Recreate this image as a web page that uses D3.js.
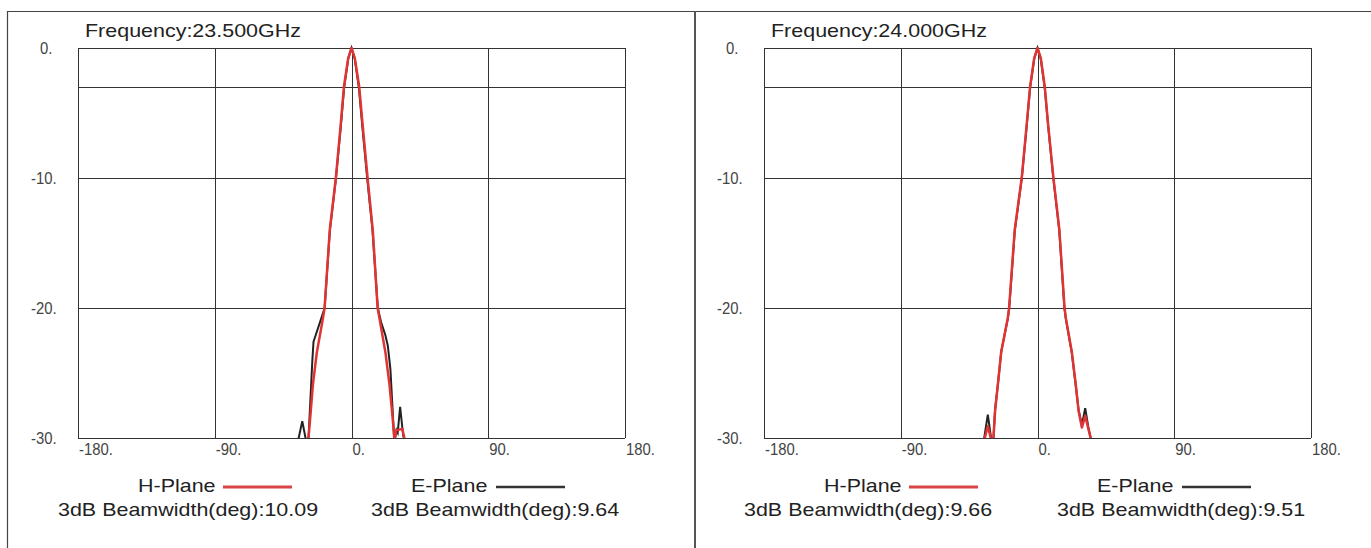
<!DOCTYPE html>
<html>
<head>
<meta charset="utf-8">
<style>
    body { margin: 0; background: #fff; }
    svg text { font-family: Arial, "Liberation Sans", sans-serif; }
    .tick-label { font-size: 16.5px; fill: #444; }
    .title, .legend { font-size: 19px; fill: #222; }
</style>
<script src="https://d3js.org/d3.v7.min.js"></script>
</head>
<body>
<svg id="chart" width="1371" height="548"></svg>
<script>
// axis ticks
var angleTicks = [-180, -90, 0, 90, 180];
var dbTicks = [0, -10, -20, -30];
var dbGrid = [0, -3, -10, -20, -30];

// panel headings + beamwidths
var frequencies = ["23.500", "24.000"];
var hBeamwidths = ["10.09", "9.66"];
var eBeamwidths = ["9.64", "9.51"];

// 23.5 GHz, H-Plane
var hAngles235 = [-40, -29.5, -28.3, -27.2, -25.4, -22.8, -18.8, -17.7, -14.3, -10.3, -7.2, -5, -2.2, 0, 2.2, 5.1, 7.4, 10.6, 14, 17.2, 18.4, 22.3, 25, 27.1, 28.3, 29.5, 33.5, 35.5, 38];
var hDb235 = [-40, -31.5, -30, -28.5, -25.9, -23.4, -20.8, -20, -14, -10, -6, -3, -0.8, 0, -0.8, -3, -6, -10, -14, -20, -20.8, -23.4, -25.9, -28.5, -30.2, -29.4, -29.3, -30.4, -36];
// 23.5 GHz, E-Plane
var eAngles235 = [-40, -35.5, -32.4, -29.6, -29, -28.3, -25.8, -25, -23.6, -19.9, -17.7, -14.2, -10.2, -7, -4.8, -2.1, 0, 2.1, 4.8, 7.1, 10.3, 13.8, 17.3, 19.5, 22.3, 23.9, 25.6, 28.2, 29.6, 30.4, 32, 34, 35.5, 38];
var eDb235 = [-40, -30.4, -28.7, -30.4, -31, -30, -24.1, -22.6, -22.1, -20.8, -20, -14, -10, -6, -3, -0.8, 0, -0.8, -3, -6, -10, -14, -20, -21.1, -22.1, -22.9, -24.7, -30.3, -29.4, -29.6, -27.6, -29.8, -30.4, -36];

// 24.0 GHz, H-Plane
var hAngles240 = [-40, -35.6, -32.7, -30.3, -29, -27.9, -26.1, -23.9, -19.6, -18.7, -15, -10.4, -7.2, -4.9, -2.2, 0, 2.2, 4.8, 7.1, 10.5, 14.4, 17.8, 18.7, 22.6, 25.2, 27, 29.2, 31.4, 33.5, 35.8, 38];
var hDb240 = [-40, -30.4, -29.1, -30.2, -30, -27.9, -25.9, -23.4, -20.8, -20, -14, -10, -6, -3, -0.8, 0, -0.8, -3, -6, -10, -14, -20, -20.8, -23.4, -25.9, -27.9, -29.2, -28.3, -29.3, -30.4, -36];
// 24.0 GHz, E-Plane
var eAngles240 = [-40, -35.6, -32.7, -30.3, -29, -27.9, -26, -23.8, -19.5, -18.6, -14.9, -10.3, -7.1, -4.8, -2.1, 0, 2.1, 4.7, 7, 10.4, 14.3, 17.7, 18.6, 22.5, 25.1, 27, 29.2, 31.4, 33.5, 35.8, 38];
var eDb240 = [-40, -30.4, -28.2, -30.2, -30, -27.8, -25.8, -23.3, -20.8, -20, -14, -10, -6, -3, -0.8, 0, -0.8, -3, -6, -10, -14, -20, -20.8, -23.4, -25.9, -27.8, -29, -27.7, -29.2, -30.4, -36];

function zip(a, b) { return a.map(function (v, i) { return [v, b[i]]; }); }

var panels = [
    { freq: frequencies[0], h: zip(hAngles235, hDb235), e: zip(eAngles235, eDb235), hbw: hBeamwidths[0], ebw: eBeamwidths[0] },
    { freq: frequencies[1], h: zip(hAngles240, hDb240), e: zip(eAngles240, eDb240), hbw: hBeamwidths[1], ebw: eBeamwidths[1] }
];

var svg = d3.select("#chart");
var panelShift = 686;

// outer frame
svg.append("line").attr("x1", 7).attr("x2", 1371).attr("y1", 11.5).attr("y2", 11.5)
    .attr("stroke", "#444").attr("stroke-width", 1.2);
svg.append("line").attr("x1", 7.5).attr("x2", 7.5).attr("y1", 11).attr("y2", 548)
    .attr("stroke", "#444").attr("stroke-width", 1.2);
svg.append("line").attr("x1", 695).attr("x2", 695).attr("y1", 11).attr("y2", 548)
    .attr("stroke", "#555").attr("stroke-width", 2);

var x = d3.scaleLinear().domain([-180, 180]).range([78, 625]);
var y = d3.scaleLinear().domain([0, -30]).range([48, 438]);

var line = d3.line()
    .x(function (d) { return x(d[0]); })
    .y(function (d) { return y(d[1]); });

svg.append("defs").append("clipPath").attr("id", "plotclip")
    .append("rect")
    .attr("x", x(-180)).attr("y", y(0) - 6)
    .attr("width", x(180) - x(-180)).attr("height", y(-30) - y(0) + 6);

panels.forEach(function (p, i) {
    var g = svg.append("g").attr("transform", "translate(" + (i * panelShift) + ",0)");

    // grid
    g.selectAll(".hgrid").data(dbGrid).enter().append("line")
        .attr("x1", x(-180)).attr("x2", x(180))
        .attr("y1", function (d) { return Math.round(y(d)) + 0.5; })
        .attr("y2", function (d) { return Math.round(y(d)) + 0.5; })
        .attr("stroke", "#333").attr("stroke-width", 1);
    g.selectAll(".vgrid").data(angleTicks).enter().append("line")
        .attr("x1", function (d) { return Math.round(x(d)) + 0.5; })
        .attr("x2", function (d) { return Math.round(x(d)) + 0.5; })
        .attr("y1", y(0)).attr("y2", y(-30))
        .attr("stroke", "#333").attr("stroke-width", 1);

    // tick labels (slightly condensed)
    g.selectAll(".ylab").data(dbTicks).enter().append("text")
        .attr("class", "tick-label")
        .attr("transform", function (d) { return "translate(" + (d === 0 ? 40 : 31) + "," + (y(d) + 6) + ") scale(0.9,1)"; })
        .text(function (d) { return d + "."; });
    g.selectAll(".xlab").data(angleTicks).enter().append("text")
        .attr("class", "tick-label")
        .attr("transform", function (d) { return "translate(" + (x(d) + 1) + "," + (y(-30) + 17) + ") scale(0.9,1)"; })
        .text(function (d) { return d + "."; });

    // title
    g.append("text").attr("class", "title")
        .attr("transform", "translate(85,37) scale(1.13,1)")
        .text("Frequency:" + p.freq + "GHz");

    // curves
    var plot = g.append("g").attr("clip-path", "url(#plotclip)");
    plot.append("path").datum(p.e).attr("d", line)
        .attr("fill", "none").attr("stroke", "#222").attr("stroke-width", 2);
    plot.append("path").datum(p.h).attr("d", line)
        .attr("fill", "none").attr("stroke", "#e03434").attr("stroke-width", 2.5)
        .attr("stroke-linejoin", "round");

    // legend
    g.append("text").attr("class", "legend")
        .attr("transform", "translate(138,492) scale(1.13,1)").text("H-Plane");
    g.append("line").attr("x1", 223).attr("x2", 292).attr("y1", 487).attr("y2", 487)
        .attr("stroke", "#d94444").attr("stroke-width", 3);
    g.append("text").attr("class", "legend")
        .attr("transform", "translate(411,492) scale(1.13,1)").text("E-Plane");
    g.append("line").attr("x1", 496).attr("x2", 565).attr("y1", 487).attr("y2", 487)
        .attr("stroke", "#333").attr("stroke-width", 2.5);
    g.append("text").attr("class", "legend")
        .attr("transform", "translate(58,516) scale(1.13,1)")
        .text("3dB Beamwidth(deg):" + p.hbw);
    g.append("text").attr("class", "legend")
        .attr("transform", "translate(371,516) scale(1.13,1)")
        .text("3dB Beamwidth(deg):" + p.ebw);
});
</script>
</body>
</html>
